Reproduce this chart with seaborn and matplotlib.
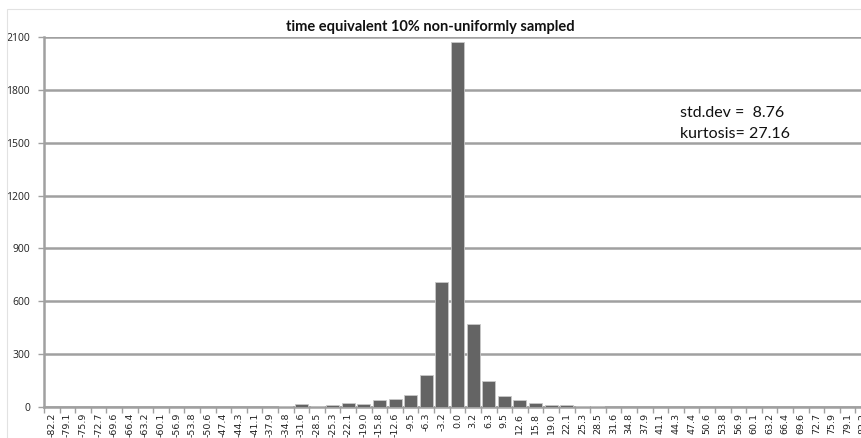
import matplotlib
matplotlib.use("Agg")
import matplotlib.pyplot as plt
import seaborn as sns
import pandas as pd
from matplotlib.ticker import FixedLocator
from matplotlib.patches import Rectangle

categories = ["-82.2", "-79.1", "-75.9", "-72.7", "-69.6", "-66.4", "-63.2", "-60.1",
              "-56.9", "-53.8", "-50.6", "-47.4", "-44.3", "-41.1", "-37.9", "-34.8",
              "-31.6", "-28.5", "-25.3", "-22.1", "-19.0", "-15.8", "-12.6", "-9.5",
              "-6.3", "-3.2", "0.0", "3.2", "6.3", "9.5", "12.6", "15.8", "19.0",
              "22.1", "25.3", "28.5", "31.6", "34.8", "37.9", "41.1", "44.3", "47.4",
              "50.6", "53.8", "56.9", "60.1", "63.2", "66.4", "69.6", "72.7", "75.9",
              "79.1", "82.2"]
counts = [0, 0, 0, 0, 0, 0, 0, 0,
          0, 0, 0, 0, 0, 0, 1, 8,
          15, 5, 14, 20, 18, 38, 44, 70,
          180, 710, 2070, 470, 148, 60, 42, 20, 12,
          10, 5, 7, 2, 0, 0, 0, 0, 0,
          0, 0, 0, 0, 0, 0, 0, 0, 0,
          0, 0]
y_ticks = [0, 300, 600, 900, 1200, 1500, 1800, 2100]
title = "time equivalent 10% non-uniformly sampled"
stats_lines = ["std.dev =  8.76", "kurtosis= 27.16"]

df = pd.DataFrame({"bin": categories, "count": counts})

sns.set_theme(style="white")
plt.rcParams["font.family"] = ["Lato", "DejaVu Sans"]

fig = plt.figure(figsize=(8.61, 4.38), dpi=100)
fig.patches.append(Rectangle((7 / 861, -0.1), 1.2, 1 - 9 / 438 + 0.1,
                             transform=fig.transFigure, fill=False,
                             edgecolor="#e2e2e2", linewidth=0.8, zorder=0))
ax = fig.add_axes([44 / 861, 1 - 407 / 438, 827 / 861, 370 / 438])
ax.patch.set_alpha(0)

sns.barplot(data=df, x="bin", y="count", order=categories, color="#646464",
            saturation=1, width=0.84, edgecolor="#c8c8c8", linewidth=0.6, ax=ax, zorder=3)

ax.set_xlim(-0.5, len(categories) - 0.5)
ax.set_ylim(0, 2100)
ax.set_yticks(y_ticks)
ax.set_yticklabels([str(v) for v in y_ticks], fontsize=7.5, color="#222222",
                   family=["Open Sans", "DejaVu Sans"])
ax.yaxis.grid(True, color="#a0a0a0", linewidth=1.8, zorder=0)
ax.xaxis.grid(False)
ax.set_axisbelow(True)

ax.set_xticks(range(len(categories)))
ax.set_xticklabels(categories, rotation=90, fontsize=6.8, color="#222222",
                   family=["DejaVu Sans"])
ax.tick_params(axis="x", which="major", length=0, pad=4)
ax.xaxis.set_minor_locator(FixedLocator([i - 0.5 for i in range(len(categories) + 1)]))
ax.tick_params(axis="x", which="minor", length=4, color="#a0a0a0", width=1, direction="out", bottom=True)
ax.tick_params(axis="y", which="major", length=4, color="#a0a0a0", width=1, left=True, pad=6)

for side in ["top", "right"]:
    ax.spines[side].set_visible(False)
for side in ["left", "bottom"]:
    ax.spines[side].set_color("#a0a0a0")
    ax.spines[side].set_linewidth(1.8)

ax.set_xlabel("")
ax.set_ylabel("")

fig.text(0.5, 1 - 27 / 438, title, ha="center", va="center", fontsize=10.5,
         fontweight="bold", color="#111111")
fig.text(680 / 861, 1 - 113 / 438, stats_lines[0], ha="left", va="center",
         fontsize=11.5, color="#111111")
fig.text(680 / 861, 1 - 134 / 438, stats_lines[1], ha="left", va="center",
         fontsize=11.5, color="#111111")

fig.savefig("out.png", dpi=100)
